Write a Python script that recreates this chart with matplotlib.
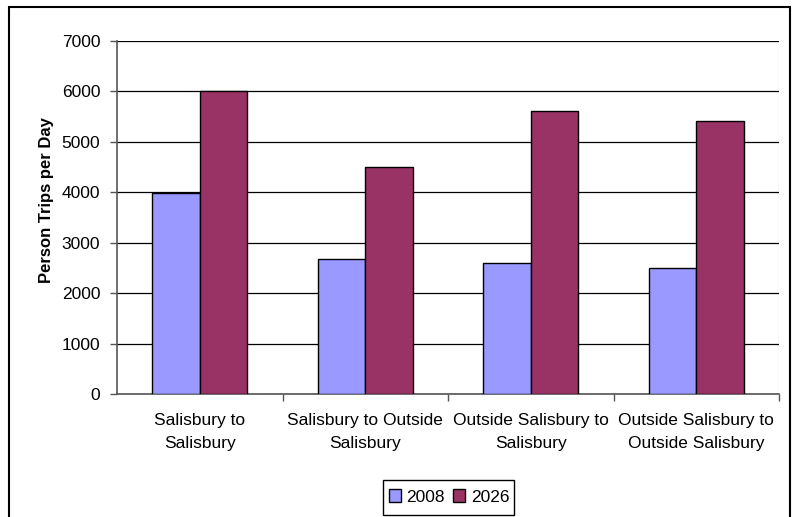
import matplotlib
matplotlib.use("Agg")
import matplotlib.pyplot as plt
from matplotlib.patches import Rectangle
import numpy as np

categories = ["Salisbury to\nSalisbury", "Salisbury to Outside\nSalisbury",
              "Outside Salisbury to\nSalisbury", "Outside Salisbury to\nOutside Salisbury"]
series_names = ["2008", "2026"]
values_2008 = [3990, 2680, 2590, 2490]
values_2026 = [6000, 4510, 5610, 5410]
yticks = [0, 1000, 2000, 3000, 4000, 5000, 6000, 7000]

plt.rcParams['font.family'] = ['Liberation Sans', 'DejaVu Sans']

fig = plt.figure(figsize=(7.95, 5.17), dpi=100)
ax = fig.add_axes([117/795, 1-394/517, (779-117)/795, (394-41)/517])

x = np.arange(len(categories))
w = 0.287
ax.bar(x - w/2, values_2008, w, color="#9999FF", edgecolor="black", linewidth=1.0, label=series_names[0], zorder=3)
ax.bar(x + w/2, values_2026, w, color="#993366", edgecolor="black", linewidth=1.0, label=series_names[1], zorder=3)

ax.set_xlim(-0.5, len(categories) - 0.5)
ax.set_ylim(0, 7000)
ax.set_yticks(yticks)
ax.set_yticklabels([str(v) for v in yticks], fontsize=12.5)
ax.yaxis.grid(True, color="black", linewidth=0.9, zorder=0)
ax.set_axisbelow(True)

ax.set_xticks(x)
ax.set_xticklabels(categories, fontsize=12.5, linespacing=1.62)
ax.tick_params(axis='x', length=0, pad=14)
ax.set_xticks(np.arange(0.5, len(categories) - 0.5 + 0.01, 1.0), minor=True)
ax.tick_params(axis='x', which='minor', length=5, width=1, color="#555555")
ax.tick_params(axis='y', length=5, width=1, color="#555555", pad=7)

ax.set_ylabel("Person Trips per Day", fontsize=12, fontweight='bold')
ax.yaxis.set_label_coords(-0.095, 0.55)

for side in ["top", "right"]:
    ax.spines[side].set_visible(False)
ax.spines["left"].set_color("#555555")
ax.spines["bottom"].set_color("#555555")
ax.spines["left"].set_linewidth(1.2)
ax.spines["bottom"].set_linewidth(1.2)

ax.axvline(len(categories) - 0.5, color="#888888", linewidth=0.8, zorder=1)

leg = ax.legend(loc="center", bbox_to_anchor=(449/795, 1-497/517), bbox_transform=fig.transFigure,
                ncol=2, fontsize=12.5, frameon=False,
                handlelength=0.7, handleheight=0.7, handletextpad=0.3, columnspacing=0.5,
                borderpad=0.3, borderaxespad=0)
fig.patches.append(Rectangle((383/795, 1-515/517), (514-383)/795, 35/517, transform=fig.transFigure,
                             fill=False, edgecolor="black", linewidth=1.0))

fig.patches.append(Rectangle((9/795, -0.05), (790-9)/795, 1.05 - 7/517, transform=fig.transFigure,
                             fill=False, edgecolor="black", linewidth=1.5))

fig.savefig("out.png", dpi=100)
